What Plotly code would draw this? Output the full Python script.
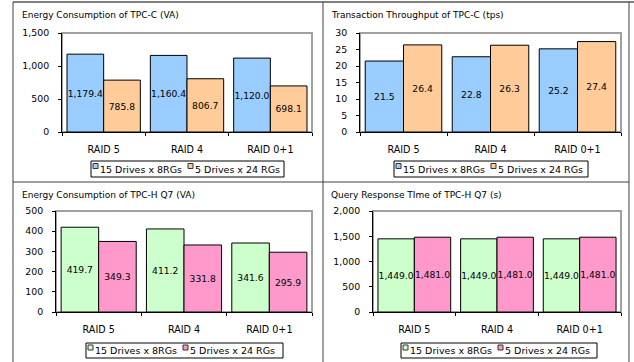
import plotly.graph_objects as go

W, H = 634, 362

categories = ["RAID 5", "RAID 4", "RAID 0+1"]
series_names = ["15 Drives x 8RGs", "5 Drives x 24 RGs"]

tpcc_energy_a = [1179.4, 1160.4, 1120.0]
tpcc_energy_b = [785.8, 806.7, 698.1]
tpcc_tps_a = [21.5, 22.8, 25.2]
tpcc_tps_b = [26.4, 26.3, 27.4]
tpch_energy_a = [419.7, 411.2, 341.6]
tpch_energy_b = [349.3, 331.8, 295.9]
tpch_time_a = [1449.0, 1449.0, 1449.0]
tpch_time_b = [1481.0, 1481.0, 1481.0]

titles = ["Energy Consumption of TPC-C (VA)", "Transaction Throughput of TPC-C (tps)",
          "Energy Consumption of TPC-H Q7 (VA)", "Query Response TIme of TPC-H Q7 (s)"]

FONT = "DejaVu Sans"

def px_x(v):
    return v / W

def px_y(v):
    return 1 - v / H

panels = [
    dict(a=tpcc_energy_a, b=tpcc_energy_b, colors=("#99CCFF", "#FFCC99"),
         xd=(62, 312), yd=(33, 132), yr=(0, 1500), dt=500, title_pos=(20, 15),
         leg=(91, 284, 161, 177)),
    dict(a=tpcc_tps_a, b=tpcc_tps_b, colors=("#99CCFF", "#FFCC99"),
         xd=(360, 621), yd=(33, 132), yr=(0, 30), dt=5, title_pos=(329, 15),
         leg=(394, 588, 161, 177)),
    dict(a=tpch_energy_a, b=tpch_energy_b, colors=("#CCFFCC", "#FF99CC"),
         xd=(56, 312), yd=(211, 312), yr=(0, 500), dt=100, title_pos=(20, 195),
         leg=(86, 283, 343, 358)),
    dict(a=tpch_time_a, b=tpch_time_b, colors=("#CCFFCC", "#FF99CC"),
         xd=(373, 621), yd=(211, 312), yr=(0, 2000), dt=500, title_pos=(329, 195),
         leg=(401, 597, 343, 358)),
]

fig = go.Figure()
layout = dict(
    width=W, height=H, margin=dict(l=0, r=0, t=0, b=0, autoexpand=False),
    paper_bgcolor="white", plot_bgcolor="white",
    font=dict(family=FONT, size=9.5, color="black"),
    bargap=0.12, bargroupgap=0, barmode="group",
    showlegend=False, hovermode=False,
)
shapes = []
annotations = []

for i, p in enumerate(panels):
    n = "" if i == 0 else str(i + 1)
    xa, ya = "x" + n, "y" + n
    for vals, name, col in zip((p["a"], p["b"]), series_names, p["colors"]):
        fig.add_trace(go.Bar(
            x=categories, y=vals, name=name, xaxis=xa, yaxis=ya,
            marker=dict(color=col, line=dict(color="black", width=1)),
            texttemplate="%{y:,.1f}", textposition="inside", textangle=0,
            insidetextanchor="middle", constraintext="none",
            textfont=dict(family=FONT, size=9.2, color="black"),
            offsetgroup=name, hoverinfo="skip",
        ))
    layout["xaxis" + n] = dict(
        domain=[px_x(p["xd"][0]), px_x(p["xd"][1])], anchor=ya,
        showline=True, linecolor="black", linewidth=1,
        ticks="outside", tickson="boundaries", ticklen=3, tickcolor="black",
        ticklabelstandoff=8, tickfont=dict(size=9.6), showgrid=False,
        fixedrange=True,
    )
    layout["yaxis" + n] = dict(
        domain=[px_y(p["yd"][1]), px_y(p["yd"][0])], anchor=xa,
        range=list(p["yr"]), dtick=p["dt"], tick0=0, tickformat=",",
        showline=True, linecolor="black", linewidth=1,
        ticks="outside", ticklen=3, tickcolor="black",
        ticklabelstandoff=7, tickfont=dict(size=9.4), showgrid=False,
        zeroline=False, fixedrange=True,
    )
    # plot area grey frame
    shapes.append(dict(type="rect", xref=xa + " domain", yref=ya + " domain",
                       x0=0, x1=1, y0=0, y1=1, line=dict(color="#A0A0A0", width=2),
                       layer="below"))
    annotations.append(dict(text=titles[i], xref="paper", yref="paper",
                            x=px_x(p["title_pos"][0]), y=px_y(p["title_pos"][1]),
                            xanchor="left", yanchor="middle", showarrow=False,
                            font=dict(family=FONT, size=9, color="black")))
    # legend box (drawn manually to match compact spreadsheet-style legend)
    lx0, lx1, ly0, ly1 = p["leg"]
    shapes.append(dict(type="rect", xref="paper", yref="paper",
                       x0=px_x(lx0), x1=px_x(lx1), y0=px_y(ly1), y1=px_y(ly0),
                       line=dict(color="black", width=1), fillcolor="white"))
    yc = (ly0 + ly1) / 2
    for k, (name, col) in enumerate(zip(series_names, p["colors"])):
        sx = lx0 + 2 + k * 95
        shapes.append(dict(type="rect", xref="paper", yref="paper",
                           x0=px_x(sx), x1=px_x(sx + 5), y0=px_y(yc - 0.5), y1=px_y(yc - 5.5),
                           line=dict(color="#333333", width=1), fillcolor=col))
        annotations.append(dict(text=name, xref="paper", yref="paper",
                                x=px_x(sx + 6), y=px_y(yc), xanchor="left", yanchor="middle",
                                showarrow=False, xshift=-1,
                                font=dict(family=FONT, size=9.5, color="black")))

# outer table grid
grid = "#404040"
shapes += [
    dict(type="line", xref="paper", yref="paper", x0=px_x(13), x1=1, y0=px_y(2), y1=px_y(2),
         line=dict(color="black", width=1)),
    dict(type="line", xref="paper", yref="paper", x0=px_x(13), x1=px_x(629), y0=px_y(182), y1=px_y(182),
         line=dict(color=grid, width=1)),
    dict(type="line", xref="paper", yref="paper", x0=px_x(13), x1=px_x(13), y0=0, y1=px_y(2),
         line=dict(color=grid, width=1)),
    dict(type="line", xref="paper", yref="paper", x0=px_x(323), x1=px_x(323), y0=0, y1=px_y(2),
         line=dict(color=grid, width=1)),
    dict(type="line", xref="paper", yref="paper", x0=px_x(629), x1=px_x(629), y0=0, y1=px_y(2),
         line=dict(color=grid, width=1)),
]
layout["shapes"] = shapes
layout["annotations"] = annotations
fig.update_layout(**layout)

fig.write_html(
    "out.html",
    config={"displayModeBar": False, "staticPlot": True},
    post_script="document.body.style.margin='0';document.body.style.overflow='hidden';",
)
